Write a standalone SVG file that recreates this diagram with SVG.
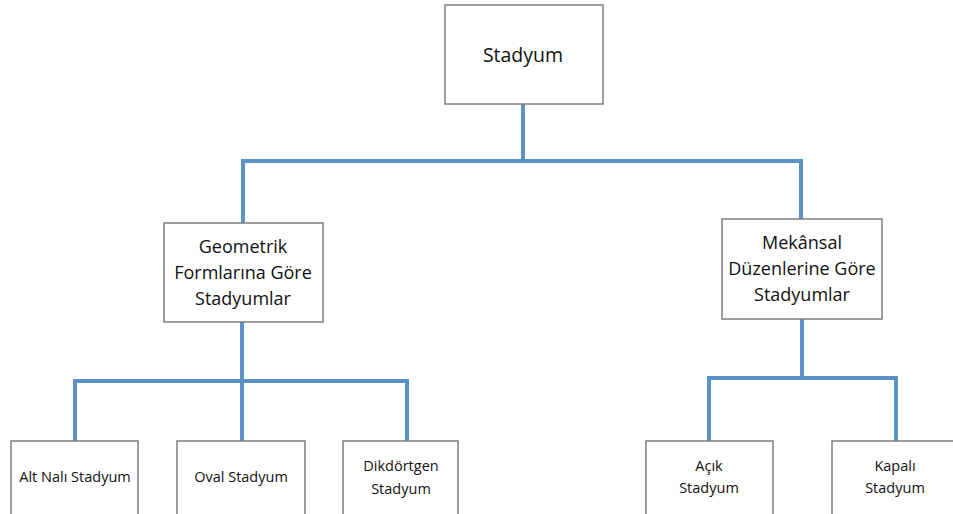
<svg xmlns="http://www.w3.org/2000/svg" width="953" height="514" viewBox="0 0 953 514">
<style>
.box{fill:#ffffff;stroke:#7f7f7f;stroke-width:1.5}
.ln{fill:none;stroke:#5b93c9;stroke-width:4}
text{font-family:"Open Sans","Liberation Sans",sans-serif;fill:#111111;text-anchor:middle}
.t1{font-size:19.5px}
.t2{font-size:18px}
.t3{font-size:14.5px}
</style>
<rect width="953" height="514" fill="#ffffff"/>
<g id="connectors">
<path class="ln" d="M523 104V161"/>
<path class="ln" d="M243 223V161H801V219"/>
<path class="ln" d="M242 322V381"/>
<path class="ln" d="M75 441V381H407V441"/>
<path class="ln" d="M242 381V441"/>
<path class="ln" d="M802 319V378"/>
<path class="ln" d="M709 441V378H896V441"/>
</g>
<g id="n-stadyum">
<rect class="box" x="445" y="5" width="158" height="99"/>
<text class="t1" x="523" y="62">Stadyum</text>
</g>
<g id="n-geometrik">
<rect class="box" x="164" y="223" width="159" height="99"/>
<text class="t2" x="243" y="253">Geometrik</text>
<text class="t2" x="243" y="279">Formlarına Göre</text>
<text class="t2" x="243" y="305">Stadyumlar</text>
</g>
<g id="n-mekansal">
<rect class="box" x="722" y="219" width="160" height="100"/>
<text class="t2" x="802" y="249">Mekânsal</text>
<text class="t2" x="802" y="275">Düzenlerine Göre</text>
<text class="t2" x="802" y="301">Stadyumlar</text>
</g>
<g id="n-altnali">
<rect class="box" x="11" y="441" width="127" height="80"/>
<text class="t3" x="75" y="482">Alt Nalı Stadyum</text>
</g>
<g id="n-oval">
<rect class="box" x="177" y="441" width="128" height="80"/>
<text class="t3" x="241" y="482">Oval Stadyum</text>
</g>
<g id="n-dikdortgen">
<rect class="box" x="343" y="441" width="115" height="80"/>
<text class="t3" x="401" y="471">Dikdörtgen</text>
<text class="t3" x="401" y="494">Stadyum</text>
</g>
<g id="n-acik">
<rect class="box" x="646" y="441" width="127" height="80"/>
<text class="t3" x="709" y="471">Açık</text>
<text class="t3" x="709" y="493">Stadyum</text>
</g>
<g id="n-kapali">
<rect class="box" x="832" y="441" width="127" height="80"/>
<text class="t3" x="895" y="471">Kapalı</text>
<text class="t3" x="895" y="493">Stadyum</text>
</g>
</svg>
